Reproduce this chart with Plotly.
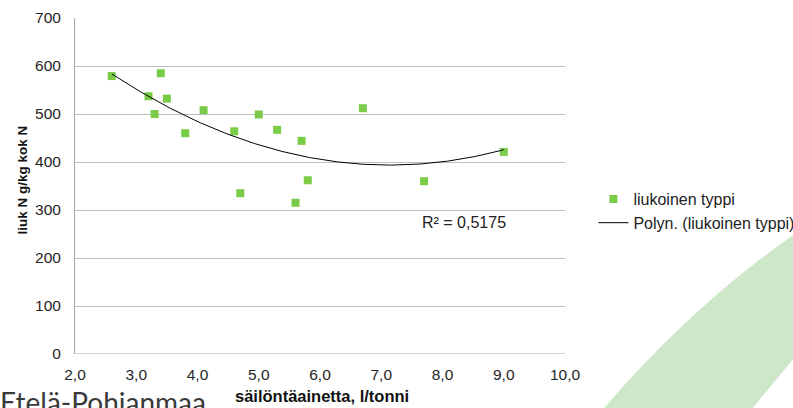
import numpy as np
import plotly.graph_objects as go

# data
x_vals = [2.6, 3.2, 3.4, 3.3, 3.5, 3.8, 4.1, 4.6, 4.7, 5.0, 5.3, 5.6, 5.7, 5.8, 6.7, 7.7, 9.0]
y_vals = [579, 537, 585, 500, 532, 460, 508, 464, 335, 499, 467, 315, 444, 362, 512, 360, 421]
series_name = "liukoinen typpi"
trend_name = "Polyn. (liukoinen typpi)"
r2_label = "R² = 0,5175"
x_title = "säilöntäainetta, l/tonni"
y_title = "liuk N g/kg kok N"
region_label = "Etelä-Pohjanmaa"

W, H = 793, 408
L, R, T, B = 74.5, 565.5, 18, 354

def px(xp):
    return (xp - L) / (R - L)

def py(yp):
    return (B - yp) / (B - T)

# 2nd order polynomial trendline (as in the spreadsheet)
coef = np.polyfit(x_vals, y_vals, 2)
xt = np.linspace(min(x_vals), max(x_vals), 200)
yt = np.polyval(coef, xt)

fig = go.Figure()
fig.add_trace(go.Scatter(
    x=x_vals, y=y_vals, mode="markers", name=series_name,
    marker=dict(symbol="square", size=8, color="#7ACC48"),
))
fig.add_trace(go.Scatter(
    x=xt, y=yt, mode="lines", name=trend_name,
    line=dict(color="#000000", width=1),
))

font_main = "Arial, Liberation Sans, sans-serif"

fig.update_layout(
    width=W, height=H,
    margin=dict(l=L, r=W - R, t=T, b=H - B, pad=0, autoexpand=False),
    paper_bgcolor="white", plot_bgcolor="white",
    separators=", ",
    showlegend=True,
    legend=dict(
        x=px(594), y=py(211), xanchor="left", yanchor="middle",
        font=dict(family=font_main, size=16, color="#222"),
        bgcolor="rgba(0,0,0,0)", borderwidth=0,
        itemwidth=30, tracegroupgap=0,
    ),
    xaxis=dict(
        range=[2, 10], dtick=1, tickformat=".1f",
        showgrid=False, zeroline=False,
        showline=False, ticks="", ticklabelstandoff=9,
        tickfont=dict(family=font_main, size=15.5, color="#262626"),
        fixedrange=True,
    ),
    yaxis=dict(
        range=[0, 700], dtick=100,
        showgrid=True, gridcolor="#bfbfbf", gridwidth=1,
        zeroline=False, showline=True, linecolor="#a6a6a6", linewidth=1,
        ticks="", ticklabelstandoff=10,
        tickfont=dict(family=font_main, size=15.5, color="#262626"),
        fixedrange=True,
    ),
    hovermode=False,
)

# bottom axis line at 0
fig.add_shape(type="line", xref="paper", yref="y", x0=0, x1=1, y0=0, y1=0,
              line=dict(color="#a6a6a6", width=1))

# decorative green band bottom right
p0, c0, p1 = (603, 410), (695, 303), (800, 231)
p2, p3 = (800, 352), (752, 410)
path = (f"M {px(p0[0]):.4f},{py(p0[1]):.4f} "
        f"Q {px(c0[0]):.4f},{py(c0[1]):.4f} {px(p1[0]):.4f},{py(p1[1]):.4f} "
        f"L {px(p2[0]):.4f},{py(p2[1]):.4f} L {px(p3[0]):.4f},{py(p3[1]):.4f} Z")
fig.add_shape(type="path", xref="paper", yref="paper", path=path,
              fillcolor="#cde7c8", line=dict(width=0), layer="below")

annotations = [
    dict(text=r2_label, x=px(464), y=py(222), xref="paper", yref="paper",
         showarrow=False, font=dict(family=font_main, size=16, color="#222"),
         xanchor="center", yanchor="middle"),
    dict(text="<b>" + x_title + "</b>", x=px(322), y=py(396), xref="paper", yref="paper",
         showarrow=False, font=dict(family=font_main, size=16.5, color="#111"),
         xanchor="center", yanchor="middle"),
    dict(text="<b>" + y_title + "</b>", x=px(22), y=py(180), xref="paper", yref="paper",
         showarrow=False, textangle=-90, font=dict(family=font_main, size=13.5, color="#111"),
         xanchor="center", yanchor="middle"),
    dict(text=region_label, x=px(-3), y=py(383), xref="paper", yref="paper",
         showarrow=False, font=dict(family="Lato, Open Sans, sans-serif", size=28, color="#3a3a3a"),
         xanchor="left", yanchor="top"),
]
fig.update_layout(annotations=annotations)

fig.write_html(
    "out.html",
    config={"displayModeBar": False},
    post_script="document.body.style.margin='0';document.body.style.overflow='hidden';",
)
